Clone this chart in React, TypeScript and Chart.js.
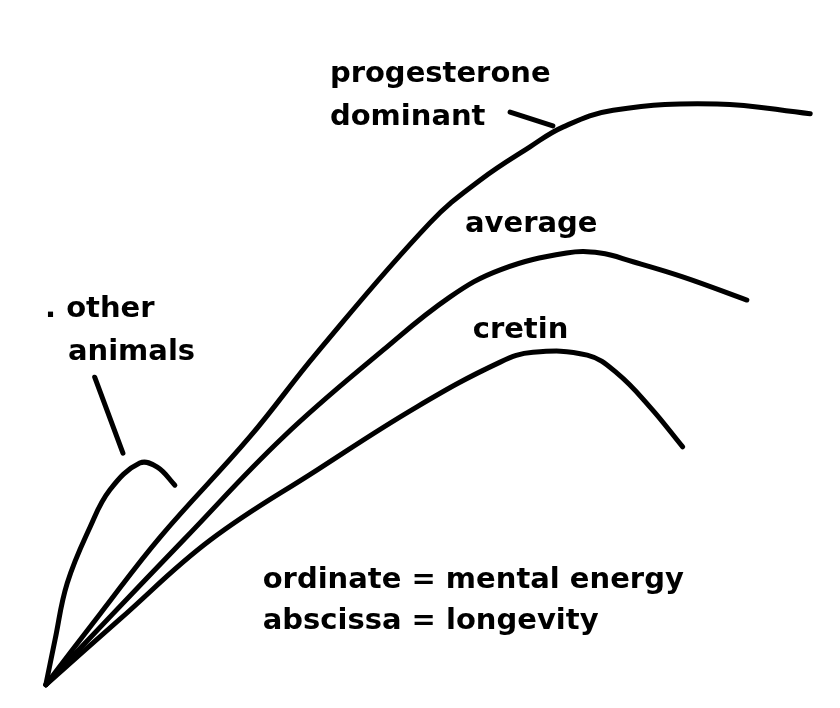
import { useEffect, useRef } from 'react';
import { Chart, registerables } from 'chart.js';

Chart.register(...registerables);

// longevity (x) / mental energy (y)
const progesteroneX = [0, 7.1, 15.0, 26.7, 35.5, 50.3, 56.9, 63.4, 67.7, 74.3, 87.9, 100.1];
const progesteroneY = [0, 12.2, 25.5, 42.7, 57.2, 79.6, 87.0, 92.7, 96.1, 99.0, 100.1, 98.4];

const averageX = [0, 8.4, 18.0, 31.1, 44.2, 52.9, 59.5, 68.2, 72.6, 76.9, 83.4, 91.8];
const averageY = [0, 11.7, 24.9, 42.7, 57.7, 66.8, 71.5, 74.4, 74.4, 72.9, 70.3, 66.3];

const cretinX = [0, 9.7, 21.5, 35.5, 48.6, 59.5, 63.8, 70.9, 74.8, 79.1, 83.4];
const cretinY = [0, 11.3, 24.9, 37.0, 47.9, 55.6, 57.3, 56.8, 53.7, 47.9, 41.0];

const animalsX = [0, 1.2, 2.8, 5.8, 8.4, 12.3, 14.6, 16.9];
const animalsY = [0, 7.7, 17.5, 27.2, 33.6, 38.2, 37.5, 34.4];

const toPoints = (xs: number[], ys: number[]) => xs.map((x, i) => ({ x, y: ys[i] }));

const FONT = 'bold 29px "DejaVu Sans", sans-serif';

// text labels, placed in data units (left edge, baseline)
const labels = [
  { text: 'progesterone', x: 37.2, y: 103.9 },
  { text: 'dominant', x: 37.2, y: 96.5 },
  { text: 'average', x: 54.9, y: 78.0 },
  { text: 'cretin', x: 55.9, y: 59.8 },
  { text: '. other', x: -0.1, y: 63.4 },
  { text: 'animals', x: 2.9, y: 56.0 },
  { text: 'ordinate = mental energy', x: 28.4, y: 16.7 },
  { text: 'abscissa = longevity', x: 28.4, y: 9.6 },
];

// little pointer strokes from the labels to the curves
const pointers = [
  { x1: 60.8, y1: 98.7, x2: 66.4, y2: 96.3 },
  { x1: 6.4, y1: 53.0, x2: 10.1, y2: 39.9 },
];

const annotations = {
  id: 'sketchLabels',
  afterDatasetsDraw(chart: any) {
    const { ctx, scales } = chart;
    const sx = scales.x;
    const sy = scales.y;
    ctx.save();
    ctx.fillStyle = '#000';
    ctx.strokeStyle = '#000';
    ctx.font = FONT;
    ctx.textBaseline = 'alphabetic';
    ctx.textAlign = 'left';
    labels.forEach((l) => {
      ctx.fillText(l.text, sx.getPixelForValue(l.x), sy.getPixelForValue(l.y));
    });
    ctx.lineWidth = 5;
    ctx.lineCap = 'round';
    pointers.forEach((p) => {
      ctx.beginPath();
      ctx.moveTo(sx.getPixelForValue(p.x1), sy.getPixelForValue(p.y1));
      ctx.lineTo(sx.getPixelForValue(p.x2), sy.getPixelForValue(p.y2));
      ctx.stroke();
    });
    ctx.restore();
  },
};

export default function App() {
  const canvasRef = useRef<HTMLCanvasElement>(null);

  useEffect(() => {
    document.body.style.margin = '0';
    const el = canvasRef.current;
    if (!el) return;

    const line = (label: string, xs: number[], ys: number[]) => ({
      label,
      data: toPoints(xs, ys),
      borderColor: '#000',
      borderWidth: 5,
      borderCapStyle: 'round' as const,
      borderJoinStyle: 'round' as const,
      tension: 0.4,
      pointRadius: 0,
      fill: false,
      clip: false as const,
    });

    const chart = new Chart(el, {
      type: 'line',
      data: {
        datasets: [
          line('progesterone dominant', progesteroneX, progesteroneY),
          line('average', averageX, averageY),
          line('cretin', cretinX, cretinY),
          line('other animals', animalsX, animalsY),
        ],
      },
      options: {
        responsive: true,
        maintainAspectRatio: false,
        animation: false,
        layout: { padding: 0 },
        plugins: {
          legend: { display: false },
          tooltip: { enabled: false },
        },
        scales: {
          x: { type: 'linear', min: -6, max: 104, display: false },
          y: { type: 'linear', min: -4, max: 118, display: false },
        },
      },
      plugins: [annotations],
    });

    return () => {
      chart.destroy();
    };
  }, []);

  return (
    <div style={{ width: '840px', height: '708px', position: 'relative', background: '#fff' }}>
      <canvas ref={canvasRef} />
    </div>
  );
}
